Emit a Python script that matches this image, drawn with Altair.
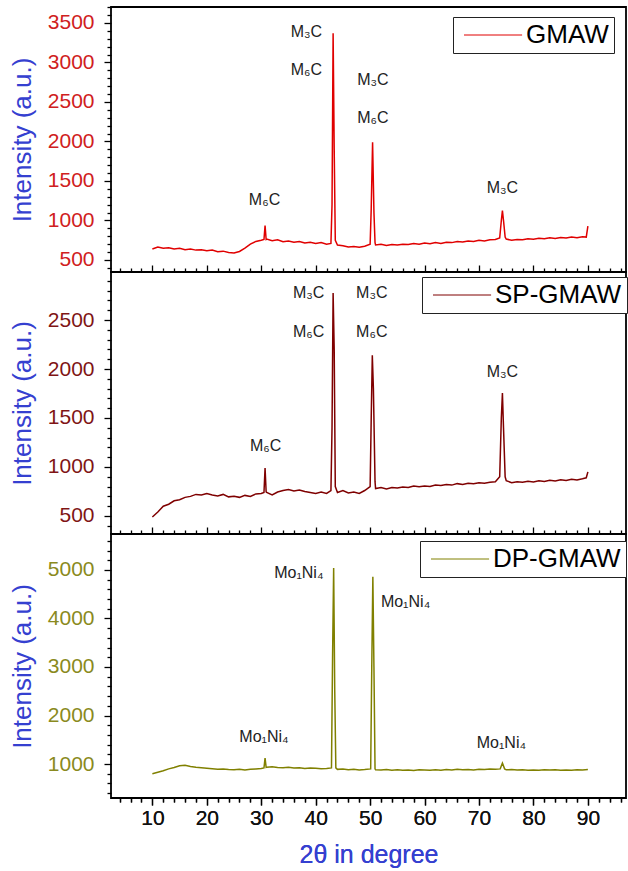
import altair as alt
import pandas as pd

FONT = "Liberation Sans"

# ---------------- data ----------------
gmaw_x = [10, 11, 12, 13, 14, 15, 16, 17, 18, 19, 20, 21, 22, 23, 24, 25, 26, 27, 28, 29, 30,
          30.5, 30.7, 30.9, 31, 32, 33, 34, 35, 36, 37, 38, 39, 40, 41, 42, 42.8, 43.0, 43.2,
          43.4, 43.6, 44, 45, 46, 47, 48, 49, 50.0, 50.2, 50.45, 50.7, 50.9, 51, 52, 53, 54,
          55, 56, 57, 58, 59, 60, 61, 62, 63, 64, 65, 66, 67, 68, 69, 70, 71, 72, 73, 73.8,
          74.1, 74.3, 74.5, 74.8, 75, 76, 77, 78, 79, 80, 81, 82, 83, 84, 85, 86, 87, 88, 89,
          89.7, 90]
gmaw_y = [640, 665, 650, 655, 640, 648, 630, 638, 625, 630, 618, 625, 605, 612, 595, 590, 608,
          650, 700, 735, 750, 760, 935, 760, 765, 745, 755, 730, 740, 725, 735, 715, 725, 710,
          720, 700, 710, 1200, 3370, 1900, 750, 690, 680, 665, 672, 660, 675, 700, 1150, 1990,
          1100, 720, 690, 700, 685, 695, 690, 700, 695, 710, 700, 715, 705, 720, 710, 725, 720,
          735, 728, 740, 735, 750, 742, 755, 760, 780, 1000, 1124, 1000, 790, 765, 750, 760,
          755, 770, 762, 775, 768, 780, 772, 785, 778, 790, 782, 795, 790, 930]

sp_x = [10, 11, 12, 13, 14, 15, 16, 17, 18, 19, 20, 21, 22, 23, 24, 25, 26, 27, 28, 29, 30,
        30.5, 30.7, 30.9, 31, 32, 33, 34, 35, 36, 37, 38, 39, 40, 41, 42, 42.8, 43.0, 43.2,
        43.4, 43.6, 44, 45, 46, 47, 48, 49, 50.0, 50.2, 50.4, 50.6, 50.9, 51, 52, 53, 54,
        55, 56, 57, 58, 59, 60, 61, 62, 63, 64, 65, 66, 67, 68, 69, 70, 71, 72, 73, 73.8,
        74.1, 74.3, 74.5, 74.8, 75, 76, 77, 78, 79, 80, 81, 82, 83, 84, 85, 86, 87, 88, 89,
        89.7, 90]
sp_y = [490, 540, 600, 620, 655, 665, 690, 700, 720, 715, 730, 715, 705, 720, 695, 700, 690,
        710, 700, 725, 730, 740, 990, 745, 740, 715, 745, 760, 770, 755, 765, 750, 740, 730,
        745, 730, 760, 1400, 2775, 2200, 800, 740, 760, 735, 745, 730, 760, 800, 1500, 2140,
        1800, 850, 780, 790, 775, 790, 785, 795, 790, 805, 798, 805, 800, 815, 810, 820, 815,
        830, 822, 835, 828, 840, 835, 845, 850, 900, 1500, 1755, 1400, 900, 860, 840, 850,
        845, 855, 848, 860, 852, 865, 858, 870, 862, 875, 868, 880, 890, 950]

dp_x = [10, 11, 12, 13, 14, 15, 16, 17, 18, 19, 20, 21, 22, 23, 24, 25, 26, 27, 28, 29, 30,
        30.5, 30.7, 30.9, 31, 32, 33, 34, 35, 36, 37, 38, 39, 40, 41, 42, 42.9, 43.1, 43.3,
        43.5, 43.7, 44, 45, 46, 47, 48, 49, 50.1, 50.3, 50.5, 50.7, 50.9, 51, 52, 53, 54, 55,
        56, 57, 58, 59, 60, 61, 62, 63, 64, 65, 66, 67, 68, 69, 70, 71, 72, 73, 73.9, 74.3,
        74.7, 75, 76, 77, 78, 79, 80, 81, 82, 83, 84, 85, 86, 87, 88, 89, 90]
dp_y = [800, 830, 860, 900, 930, 965, 975, 950, 935, 925, 915, 905, 895, 900, 885, 880, 890,
        875, 890, 900, 910, 920, 1120, 930, 935, 945, 930, 925, 935, 920, 925, 910, 920, 915,
        905, 910, 920, 3200, 5040, 2500, 920, 890, 895, 880, 890, 875, 885, 900, 3000, 4860,
        3000, 900, 880, 875, 885, 870, 880, 870, 875, 865, 880, 875, 870, 880, 872, 885, 878,
        890, 880, 885, 878, 890, 885, 895, 890, 900, 1020, 900, 880, 885, 875, 880, 870, 878,
        872, 880, 875, 882, 870, 878, 872, 880, 875, 885]

top_lab_x = [38.3, 38.3, 50.5, 50.5, 30.6, 74.3]
top_lab_y = [3386, 2905, 2778, 2297, 1260, 1411]
top_lab = ["M₃C", "M₆C", "M₃C", "M₆C", "M₆C", "M₃C"]

mid_lab_x = [38.7, 38.7, 50.3, 50.3, 74.3, 30.8]
mid_lab_y = [2774, 2378, 2774, 2378, 1973, 1212]
mid_lab = ["M₃C", "M₆C", "M₃C", "M₆C", "M₃C", "M₆C"]

bot_lab_x = [36.9, 56.5, 30.5, 74.1]
bot_lab_y = [4938, 4340, 1557, 1433]
bot_lab = ["Mo₁Ni₄", "Mo₁Ni₄", "Mo₁Ni₄", "Mo₁Ni₄"]

names = ["GMAW", "SP-GMAW", "DP-GMAW"]
line_colors = ["#e00000", "#7f0000", "#808000"]
label_colors = ["#d02020", "#801515", "#8a8a20"]
y_domains = [[348, 3702], [316, 2990], [300, 5740]]
y_major = [500, 500, 1000]
y_minor = [100, 100, 200]
heights = [265, 262, 264]
legend_pos = [(342, 10), (311, 5), (309, 7)]

X_DOMAIN = [2.4, 97]
x_ticks = list(range(4, 97, 2))
TITLE_BLUE = "#3540d0"
W = 515


def y_axis(i):
    lo, hi = y_domains[i]
    step = y_minor[i]
    vals = list(range((int(lo) // step + 1) * step, int(hi) + 1, step))
    maj = y_major[i]
    test = f"datum.value % {maj} === 0"
    return alt.Axis(
        values=vals,
        labelExpr=f"{test} ? datum.label : ''",
        tickSize={"condition": {"test": test, "value": 7}, "value": 4},
        labelFontSize=21,
        labelColor=label_colors[i],
        labelFont=FONT,
        labelPadding=10,
        format="d",
        title="Intensity (a.u.)",
        titleColor=TITLE_BLUE,
        titleFontSize=26,
        titleFont=FONT,
        titleFontWeight="normal",
        titlePadding=12,
        domain=False,
        grid=False,
        tickColor="black",
        tickWidth=1.3,
        labelOverlap=False,
    )


def x_axis(orient, labels):
    kw = dict(
        orient=orient,
        values=x_ticks,
        tickSize={"condition": {"test": "datum.value % 10 === 0", "value": 7}, "value": 4},
        domain=False,
        grid=False,
        tickColor="black",
        tickWidth=1.3,
        labelOverlap=False,
    )
    if labels:
        test = "datum.value % 10 === 0 && datum.value >= 10 && datum.value <= 90"
        kw.update(
            labelExpr=f"{test} ? datum.label : ''",
            labelFontSize=21,
            labelFont=FONT,
            labelColor="#111111",
            labelPadding=2,
            title="2θ in degree",
            titleColor=TITLE_BLUE,
            titleFontSize=25,
            titleFont=FONT,
            titleFontWeight="normal",
            titlePadding=14,
        )
    else:
        kw.update(labels=False, title=None)
    return alt.Axis(**kw)


def panel(i, xs, ys, lx, ly, lt, top_axis, bottom_axis):
    df = pd.DataFrame({"x": xs, "y": ys, "s": names[i]})
    ldf = pd.DataFrame({"x": lx, "y": ly, "t": lt})
    xscale = alt.Scale(domain=X_DOMAIN, nice=False, zero=False)
    yscale = alt.Scale(domain=y_domains[i], nice=False, zero=False)
    lgx, lgy = legend_pos[i]
    yax = y_axis(i)

    bottom_ax = x_axis("bottom", True) if bottom_axis else None
    line = alt.Chart(df).mark_line(strokeWidth=1.5, clip=True).encode(
        x=alt.X("x:Q", scale=xscale, axis=bottom_ax),
        y=alt.Y("y:Q", scale=yscale, axis=yax),
        color=alt.Color(
            "s:N",
            scale=alt.Scale(domain=[names[i]], range=[line_colors[i]]),
            legend=alt.Legend(
                title=None,
                orient="none",
                legendX=lgx,
                legendY=lgy,
                symbolType="M-1,0H7.3",
                symbolSize=196,
                symbolStrokeWidth=1,
                labelFontSize=26,
                labelFont=FONT,
                labelColor="black",
                labelLimit=400,
                labelOffset=42,
                strokeColor="#222222",
                fillColor="white",
                padding=5,
            ),
        ),
    )
    text = alt.Chart(ldf).mark_text(
        font=FONT, fontSize=16, color="#222222", align="center", baseline="middle"
    ).encode(
        x=alt.X("x:Q", scale=xscale, axis=bottom_ax),
        y=alt.Y("y:Q", scale=yscale, axis=yax),
        text="t:N",
    )
    layers = [line, text]
    if top_axis:
        ax = alt.Chart(df).mark_line(opacity=0).encode(
            x=alt.X("x:Q", scale=xscale, axis=x_axis("top", False)),
            y=alt.Y("y:Q", scale=yscale, axis=yax),
        )
        layers.append(ax)
    ch = alt.layer(*layers).properties(width=W, height=heights[i])
    if top_axis:
        ch = ch.resolve_axis(x="independent")
    return ch


p1 = panel(0, gmaw_x, gmaw_y, top_lab_x, top_lab_y, top_lab, False, False)
p2 = panel(1, sp_x, sp_y, mid_lab_x, mid_lab_y, mid_lab, True, False)
p3 = panel(2, dp_x, dp_y, bot_lab_x, bot_lab_y, bot_lab, True, True)

# With autosize "none" a vconcat gets no overall height, so the bottom padding
# carries the stacked panel heights plus the room for the x axis.
chart = (
    alt.vconcat(p1, p2, p3, spacing=0, bounds="flush")
    .resolve_scale(y="independent", color="independent")
    .properties(
        autosize=alt.AutoSizeParams(type="none"),
        padding={"left": 111, "top": 7, "right": 2, "bottom": 864},
        background="white",
    )
    .configure_view(stroke="black", strokeWidth=1.8)
)

chart.save("out.html", embed_options={"renderer": "svg", "actions": False})
